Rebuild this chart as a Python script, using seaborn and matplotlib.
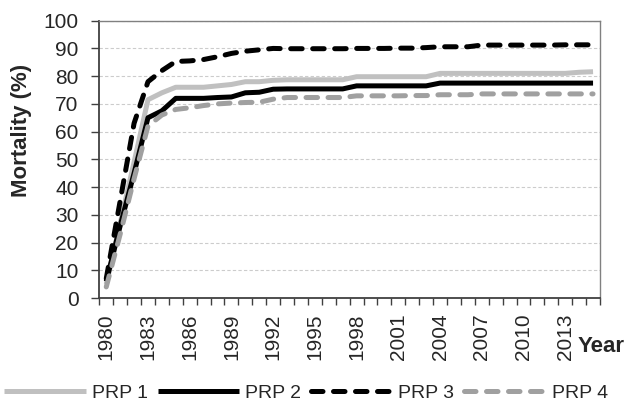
import numpy as np
import pandas as pd
import matplotlib
matplotlib.use("Agg")
import matplotlib.pyplot as plt
import seaborn as sns

years = list(range(1980, 2016))
prp1 = [5, 27, 49, 71.5, 74, 76, 76, 76, 76.5, 77, 78, 78, 78.5, 78.7, 78.7, 78.7, 78.7, 78.7,
        79.8, 79.8, 79.8, 79.8, 79.8, 79.8, 81, 81, 81, 81, 81, 81, 81, 81, 81, 81, 81.4, 81.6]
prp2 = [6, 26, 45, 65, 67.5, 72, 72, 72, 72.3, 72.5, 74, 74.2, 75.3, 75.4, 75.4, 75.4, 75.4, 75.4,
        76.5, 76.5, 76.5, 76.5, 76.5, 76.5, 77.5, 77.5, 77.5, 77.5, 77.5, 77.5, 77.5, 77.5, 77.5, 77.5, 77.5, 77.5]
prp3 = [7, 35, 63, 78, 82, 85.3, 85.5, 86, 87, 88.2, 89, 89.5, 90, 89.9, 89.9, 89.9, 89.9, 89.9,
        90, 90, 90, 90.1, 90.1, 90.3, 90.6, 90.6, 90.6, 91.2, 91.2, 91.2, 91.2, 91.2, 91.2, 91.3, 91.3, 91.3]
prp4 = [4, 23, 43, 62, 66, 68, 68.6, 69.4, 70, 70.3, 70.5, 70.6, 71.7, 72.3, 72.3, 72.3, 72.3, 72.3,
        72.9, 72.9, 72.9, 72.9, 73, 73, 73.3, 73.3, 73.3, 73.6, 73.6, 73.6, 73.6, 73.6, 73.6, 73.6, 73.6, 73.6]
series_names = ["PRP 1", "PRP 2", "PRP 3", "PRP 4"]
tick_years = list(range(1980, 2014, 3))

df = pd.DataFrame({"Year": years, "PRP 1": prp1, "PRP 2": prp2, "PRP 3": prp3, "PRP 4": prp4})
long = df.melt(id_vars="Year", var_name="Series", value_name="Mortality")

sns.set_theme(style="white")
plt.rcParams["font.family"] = ["Liberation Sans", "DejaVu Sans"]

fig = plt.figure(figsize=(6.32, 4.03), dpi=100)
ax = fig.add_axes([99.3 / 632, 1 - 298 / 403, (600 - 99.3) / 632, (298 - 20.7) / 403])

styles = {
    "PRP 1": dict(color="#c0c0c0", ls="-"),
    "PRP 2": dict(color="#000000", ls="-"),
    "PRP 3": dict(color="#000000", ls=(0, (2.3, 2.1))),
    "PRP 4": dict(color="#a0a0a0", ls=(0, (2.3, 2.1))),
}
for name in series_names:
    sub = long[long["Series"] == name]
    st = styles[name]
    sns.lineplot(data=sub, x="Year", y="Mortality", ax=ax, color=st["color"],
                 linestyle=st["ls"], linewidth=3.6, label=name,
                 dash_capstyle="round", solid_capstyle="butt", solid_joinstyle="round")

ax.set_xlim(1979.5, 2015.5)
ax.set_ylim(0, 100)
ax.set_yticks(range(0, 101, 10))
ax.set_xticks(tick_years)
ax.set_xticklabels([str(y) for y in tick_years], rotation=90, fontsize=15)
ax.set_xticks(np.arange(1979.5, 2016, 1), minor=True)
ax.tick_params(axis="x", which="major", length=0, pad=11)
ax.tick_params(axis="x", which="minor", length=5, width=1, color="#404040", direction="out", bottom=True)
ax.tick_params(axis="y", which="major", length=6, width=1, color="#404040", direction="out", left=True,
               labelsize=15, pad=9)
ax.yaxis.grid(True, linestyle=(0, (3, 2)), color="#cccccc", linewidth=0.8)
ax.set_axisbelow(True)
ax.set_xlabel("")
ax.set_ylabel("Mortality (%)", fontsize=16, fontweight="bold", va="center")
ax.yaxis.set_label_coords((22 - 99.3) / 500.7, (298 - 130) / 277.3)

for side in ["left", "bottom"]:
    ax.spines[side].set_color("#404040")
    ax.spines[side].set_linewidth(1.3)
for side in ["top", "right"]:
    ax.spines[side].set_visible(True)
    ax.spines[side].set_color("#808080")
    ax.spines[side].set_linewidth(1.0)

fig.text(578 / 632, 1 - 347 / 403, "Year", fontsize=16, fontweight="bold", ha="left", va="center")

ax.legend_.remove()
handles, labels = ax.get_legend_handles_labels()
fig.legend(handles, labels, loc="center", bbox_to_anchor=(306 / 632, 1 - 393 / 403), ncol=4, frameon=False,
           fontsize=14, handlelength=4.2, handletextpad=0.3, columnspacing=0.5, borderaxespad=0,
           borderpad=0)

fig.savefig("out.png", dpi=100)
